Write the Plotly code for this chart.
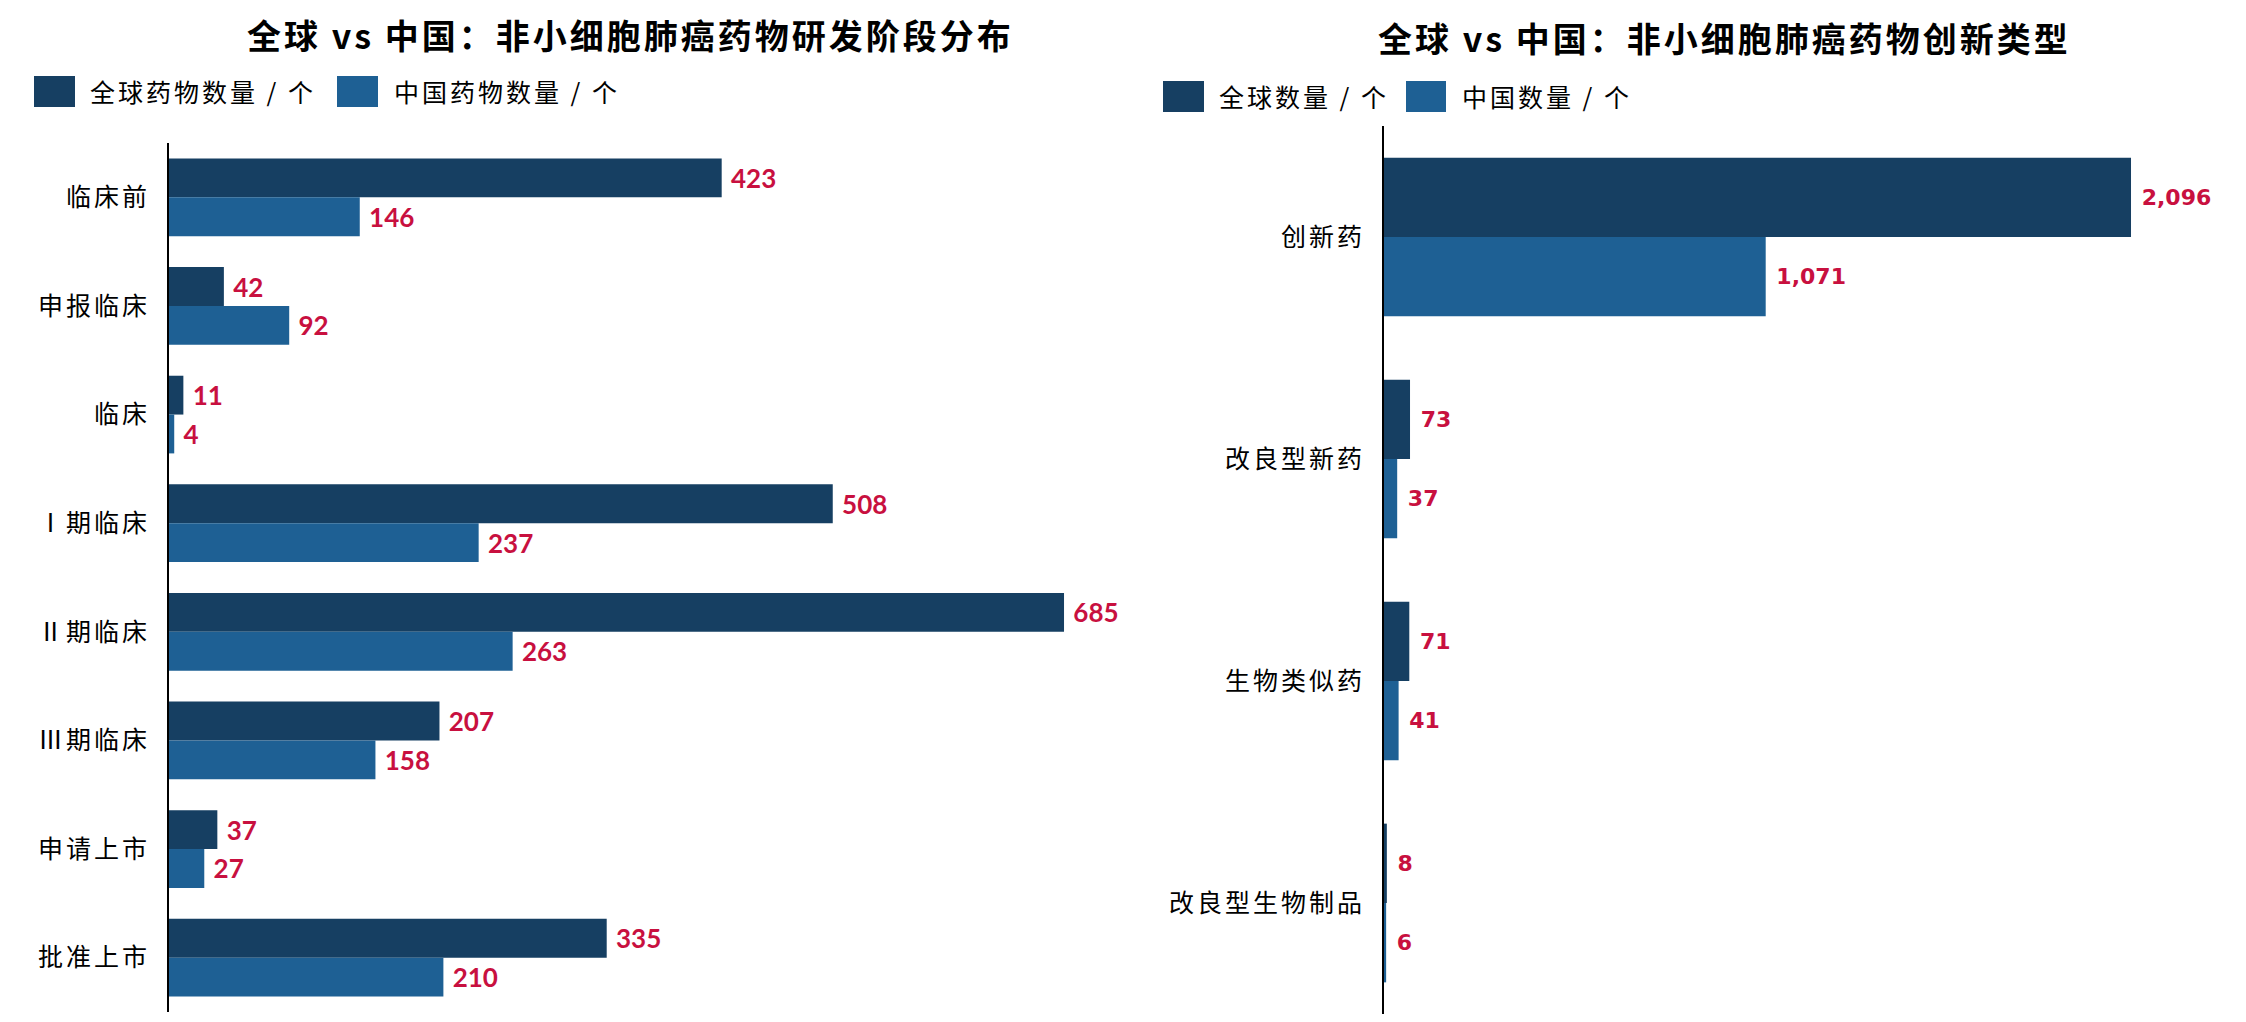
import plotly.graph_objects as go

# The page body keeps its default 8px margin, so the figure is drawn 8px
# smaller than the window and every pixel position is shifted by 8px.
WIN_W, WIN_H = 2246, 1022
OFF = 8
W, H = WIN_W - OFF, WIN_H - OFF

# ---- data ----
stage_categories = ["临床前", "申报临床", "临床", "Ⅰ期临床", "Ⅱ期临床", "Ⅲ期临床", "申请上市", "批准上市"]
stage_global = [423, 42, 11, 508, 685, 207, 37, 335]
stage_china = [146, 92, 4, 237, 263, 158, 27, 210]

type_categories = ["创新药", "改良型新药", "生物类似药", "改良型生物制品"]
type_global = [2096, 73, 71, 8]
type_china = [1071, 37, 41, 6]

left_title = "全球 vs 中国：非小细胞肺癌药物研发阶段分布"
right_title = "全球 vs 中国：非小细胞肺癌药物创新类型"
left_legend = ["全球药物数量 / 个", "中国药物数量 / 个"]
right_legend = ["全球数量 / 个", "中国数量 / 个"]

# ---- style ----
C_GLOBAL = "#163F62"
C_CHINA = "#1E6094"
C_LABEL = "#C8103F"
CJK = "Noto Sans CJK SC"
NUM_L = "Lato"
NUM_R = "DejaVu Sans"


def px_x(p):
    return (p - OFF) / W


def px_y(p):
    return 1 - (p - OFF) / H


def spaced(t, ls):
    return '<span style="letter-spacing:%dpx">%s</span>' % (ls, t)


fig = go.Figure()

# left chart
for vals, name, col in [(stage_global, left_legend[0], C_GLOBAL), (stage_china, left_legend[1], C_CHINA)]:
    fig.add_trace(go.Bar(
        y=stage_categories, x=vals, orientation="h", name=name,
        marker_color=col, marker_line_width=0, xaxis="x", yaxis="y",
        texttemplate=" %{x}", textposition="outside", cliponaxis=False, constraintext="none",
        textfont=dict(family=NUM_L, size=26, color=C_LABEL, weight="bold"),
        showlegend=False,
    ))

# right chart
for vals, name, col in [(type_global, right_legend[0], C_GLOBAL), (type_china, right_legend[1], C_CHINA)]:
    fig.add_trace(go.Bar(
        y=type_categories, x=vals, orientation="h", name=name,
        marker_color=col, marker_line_width=0, xaxis="x2", yaxis="y2",
        texttemplate=" %{x:,}", textposition="outside", cliponaxis=False, constraintext="none",
        textfont=dict(family=NUM_R, size=22, color=C_LABEL, weight="bold"),
        showlegend=False,
    ))

left_x0, left_x1 = 169, 1120
right_x0, right_x1 = 1384, 2236

fig.update_layout(
    width=W, height=H,
    margin=dict(l=0, r=0, t=0, b=0),
    paper_bgcolor="white", plot_bgcolor="white",
    barmode="group", bargap=0.285, bargroupgap=0,
    font=dict(family=CJK, color="black"),
    xaxis=dict(domain=[px_x(left_x0), px_x(left_x1)], range=[0, (left_x1 - left_x0) / 1.3066],
               visible=False, fixedrange=True),
    yaxis=dict(domain=[px_y(1012), px_y(143)], autorange="reversed", showline=True,
               linecolor="black", linewidth=2, showgrid=False, ticks="",
               tickmode="array", tickvals=stage_categories,
               ticktext=[spaced(c, 3) for c in stage_categories],
               ticklabelstandoff=12, tickfont=dict(family=CJK, size=25, color="black"),
               anchor="x"),
    xaxis2=dict(domain=[px_x(right_x0), px_x(right_x1)], range=[0, (right_x1 - right_x0) / 0.3564],
                visible=False, fixedrange=True, anchor="y2"),
    yaxis2=dict(domain=[px_y(1014), px_y(126)], autorange="reversed", showline=True,
                linecolor="black", linewidth=2, showgrid=False, ticks="",
                tickmode="array", tickvals=type_categories,
                ticktext=[spaced(c, 3) for c in type_categories],
                ticklabelstandoff=12, tickfont=dict(family=CJK, size=25, color="black"),
                anchor="x2"),
)

annotations = [
    dict(text="<b>" + spaced(left_title, 3) + "</b>", x=px_x(630), y=px_y(34), xref="paper", yref="paper",
         xanchor="center", yanchor="middle", showarrow=False,
         font=dict(family=CJK, size=34, color="black")),
    dict(text="<b>" + spaced(right_title, 3) + "</b>", x=px_x(1724), y=px_y(37), xref="paper", yref="paper",
         xanchor="center", yanchor="middle", showarrow=False,
         font=dict(family=CJK, size=34, color="black")),
]
shapes = []

legend_items = [
    (34, 75, 76, 107, 88, 91, left_legend[0], C_GLOBAL),
    (337, 378, 76, 107, 392, 91, left_legend[1], C_CHINA),
    (1163, 1204, 81, 112, 1217, 96, right_legend[0], C_GLOBAL),
    (1406, 1446, 81, 112, 1460, 96, right_legend[1], C_CHINA),
]
for x0, x1, y0, y1, tx, ty, label, col in legend_items:
    shapes.append(dict(type="rect", xref="paper", yref="paper",
                       x0=px_x(x0), x1=px_x(x1), y0=px_y(y1), y1=px_y(y0),
                       fillcolor=col, line=dict(width=0)))
    annotations.append(dict(text=spaced(label, 3), x=px_x(tx), y=px_y(ty), xref="paper", yref="paper",
                            xanchor="left", yanchor="middle", showarrow=False,
                            font=dict(family=CJK, size=25, color="black")))

fig.update_layout(annotations=annotations, shapes=shapes)

fig.write_html("out.html")
